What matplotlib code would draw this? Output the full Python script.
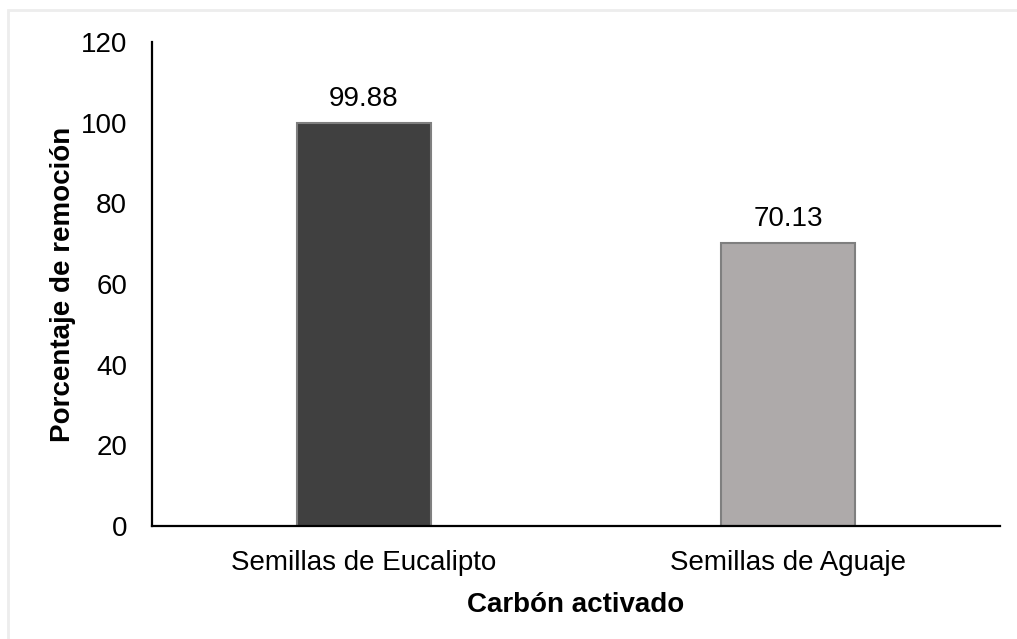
import matplotlib.pyplot as plt
import matplotlib.patches as patches

plt.rcParams['font.family'] = ['Liberation Sans', 'DejaVu Sans']

categories = ['Semillas de Eucalipto', 'Semillas de Aguaje']
values = [99.88, 70.13]
value_labels = ['99.88', '70.13']
bar_colors = ['#404040', '#AEAAAA']
y_ticks = [0, 20, 40, 60, 80, 100, 120]

fig = plt.figure(figsize=(10.17, 6.39), dpi=100)

# light frame around the chart area
fig.patches.append(patches.Rectangle((8 / 1017, -0.01), 1.02, 1 - 10 / 639 + 0.01,
                                     transform=fig.transFigure, fill=False,
                                     edgecolor='#EDEDED', linewidth=2))

ax = fig.add_axes([152 / 1017, 1 - 526 / 639, 848 / 1017, 484 / 639])

x = range(len(categories))
bars = ax.bar(x, values, width=0.314, color=bar_colors, edgecolor='#7F7F7F', linewidth=1.5)

for b, lab in zip(bars, value_labels):
    ax.annotate(lab, (b.get_x() + b.get_width() / 2, b.get_height()),
                xytext=(0, 8), textcoords='offset points', ha='center', va='bottom',
                fontsize=20)

ax.set_xlim(-0.5, 1.5)
ax.set_ylim(0, 120)
ax.set_yticks(y_ticks)
ax.set_xticks(list(x))
ax.set_xticklabels(categories)
ax.tick_params(axis='both', length=0, labelsize=20)
ax.tick_params(axis='y', pad=18)
ax.tick_params(axis='x', pad=17)

for s in ['top', 'right']:
    ax.spines[s].set_visible(False)
for s in ['left', 'bottom']:
    ax.spines[s].set_linewidth(1.6)
    ax.spines[s].set_color('black')

ax.set_xlabel('Carbón activado', fontsize=20, fontweight='bold', labelpad=12)
ax.set_ylabel('Porcentaje de remoción', fontsize=20, fontweight='bold', labelpad=3)

fig.savefig('out.png', dpi=100)
